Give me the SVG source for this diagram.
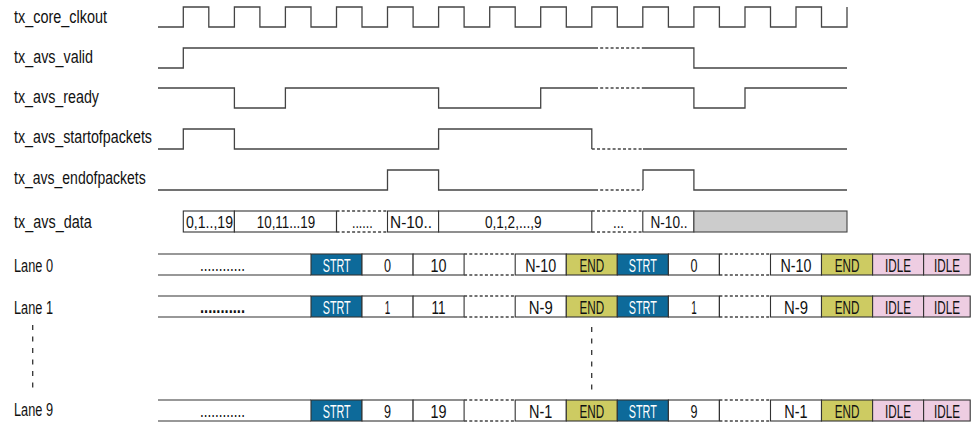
<svg xmlns="http://www.w3.org/2000/svg" width="971" height="423" viewBox="0 0 971 423">
<style>
  text { font-family: "Liberation Sans", Arial, sans-serif; font-size: 17.5px; fill: #111; }
  .lbl { text-anchor: start; }
  .c { text-anchor: middle; }
  .d { font-size: 17px; }
  .w { fill: #ffffff; }
  .sig { fill: none; stroke: #444; stroke-width: 1.3; }
  .dot { fill: none; stroke: #444; stroke-width: 1.3; stroke-dasharray: 3 2.2; }
  .box { fill: #ffffff; stroke: #333; stroke-width: 1.1; }
  .gray { fill: #cccccc; stroke: #444; stroke-width: 1.1; }
  .strt { fill: #0d6a9a; stroke: #333; stroke-width: 1.1; }
  .end { fill: #cdcb62; stroke: #333; stroke-width: 1.1; }
  .idle { fill: #eecde2; stroke: #333; stroke-width: 1.1; }
  .edge { fill: none; stroke: #333; stroke-width: 1.1; }
  .vdash { fill: none; stroke: #333; stroke-width: 1.3; stroke-dasharray: 5 6.5; }
</style>

<g id="labels">
  <text class="lbl" x="14" y="23" textLength="93" lengthAdjust="spacingAndGlyphs">tx_core_clkout</text>
  <text class="lbl" x="14" y="63" textLength="79" lengthAdjust="spacingAndGlyphs">tx_avs_valid</text>
  <text class="lbl" x="14" y="103" textLength="85" lengthAdjust="spacingAndGlyphs">tx_avs_ready</text>
  <text class="lbl" x="14" y="143" textLength="138" lengthAdjust="spacingAndGlyphs">tx_avs_startofpackets</text>
  <text class="lbl" x="14" y="184" textLength="131.7" lengthAdjust="spacingAndGlyphs">tx_avs_endofpackets</text>
  <text class="lbl" x="14" y="228" textLength="77.7" lengthAdjust="spacingAndGlyphs">tx_avs_data</text>
  <text class="lbl" x="14" y="272" textLength="39" lengthAdjust="spacingAndGlyphs">Lane 0</text>
  <text class="lbl" x="14" y="314" textLength="39" lengthAdjust="spacingAndGlyphs">Lane 1</text>
  <text class="lbl" x="14" y="416" textLength="39" lengthAdjust="spacingAndGlyphs">Lane 9</text>
</g>

<g id="connectors">
  <g id="clk">
    <path class="sig" d="M158,27 H183.3 V7 H208.8 V27 H234.4 V7 H259.9 V27 H285.4 V7 H311 V27 H336.5 V7 H362 V27 H387.5 V7 H413.1 V27 H438.6 V7 H464.1 V27 H489.7 V7 H515.2 V27 H540.7 V7 H566.3 V27 H591.8 V7 H617.3 V27 H642.8 V7 H668.4 V27 H693.9 V7 H719.4 V27 H745 V7 H770.5 V27 H796 V7 H821.5 V27 H847 V7"/>
  </g>
  <g id="valid">
    <path class="sig" d="M158,68 H183.3 V48 H595"/>
    <path class="dot" d="M595,48 H643"/>
    <path class="sig" d="M643,48 H693.9 V68 H847"/>
  </g>
  <g id="ready">
    <path class="sig" d="M158,88 H234.4 V108 H285.4 V88 H438.6 V108 H540.7 V88 H595"/>
    <path class="dot" d="M595,88 H643"/>
    <path class="sig" d="M643,88 H693.9 V108 H745 V88 H847"/>
  </g>
  <g id="sop">
    <path class="sig" d="M158,149 H183.3 V129 H234.4 V149 H438.6 V129 H591.8 V149"/>
    <path class="dot" d="M591.8,149 H643"/>
    <path class="sig" d="M643,149 H847"/>
  </g>
  <g id="eop">
    <path class="sig" d="M158,190 H387.5 V170 H438.6 V190 H595"/>
    <path class="dot" d="M595,190 H643"/>
    <path class="sig" d="M643,190 V170 H693.9 V190 H847"/>
  </g>
  <path class="vdash" d="M32.7,325 V390"/>
  <path class="vdash" d="M591.7,327 V392"/>
</g>

<g id="data">
  <rect class="box" x="183.3" y="211" width="51.1" height="21"/>
  <rect class="box" x="234.4" y="211" width="102.1" height="21"/>
  <path class="dot" d="M336.5,211 H387.5 M336.5,232 H387.5"/>
  <path class="edge" d="M336.5,211 V232"/>
  <rect class="box" x="387.5" y="211" width="51.1" height="21"/>
  <rect class="box" x="438.6" y="211" width="153.2" height="21"/>
  <path class="dot" d="M591.8,211 H642.8 M591.8,232 H642.8"/>
  <rect class="box" x="642.8" y="211" width="51.1" height="21"/>
  <rect class="gray" x="693.9" y="211" width="153.1" height="21"/>
  <text class="c d" x="209.5" y="227.5" textLength="47" lengthAdjust="spacingAndGlyphs">0,1..,19</text>
  <text class="c d" x="286" y="227.5" textLength="58.3" lengthAdjust="spacingAndGlyphs">10,11...19</text>
  <text class="c d" x="362.3" y="227.5" textLength="20.7" lengthAdjust="spacingAndGlyphs">......</text>
  <text class="c d" x="411" y="227.5" textLength="42" lengthAdjust="spacingAndGlyphs">N-10..</text>
  <text class="c d" x="513.3" y="227.5" textLength="56.7" lengthAdjust="spacingAndGlyphs">0,1,2,...,9</text>
  <text class="c d" x="618.5" y="227.5" textLength="11" lengthAdjust="spacingAndGlyphs">...</text>
  <text class="c d" x="669" y="227.5" textLength="37" lengthAdjust="spacingAndGlyphs">N-10..</text>
</g>

<g id="lane0">
  <path class="edge" d="M158,254 H311 M158,275 H311"/>
  <rect class="strt" x="311" y="254" width="51" height="21"/>
  <rect class="box" x="362" y="254" width="51.1" height="21"/>
  <rect class="box" x="413.1" y="254" width="51" height="21"/>
  <path class="dot" d="M464.1,254 H515.2 M464.1,275 H515.2"/>
  <rect class="box" x="515.2" y="254" width="51.1" height="21"/>
  <rect class="end" x="566.3" y="254" width="51" height="21"/>
  <rect class="strt" x="617.3" y="254" width="51.1" height="21"/>
  <rect class="box" x="668.4" y="254" width="51" height="21"/>
  <path class="dot" d="M719.4,254 H770.5 M719.4,275 H770.5"/>
  <path class="edge" d="M719.4,254 V275"/>
  <rect class="box" x="770.5" y="254" width="51" height="21"/>
  <rect class="end" x="821.5" y="254" width="51.1" height="21"/>
  <rect class="idle" x="872.6" y="254" width="51" height="21"/>
  <rect class="idle" x="923.6" y="254" width="46.6" height="21"/>
  <text class="c" x="222.5" y="271" textLength="45" lengthAdjust="spacingAndGlyphs">............</text>
  <text class="c w" x="336.7" y="271.5" textLength="28" lengthAdjust="spacingAndGlyphs">STRT</text>
  <text class="c" x="387.5" y="271.5" textLength="7" lengthAdjust="spacingAndGlyphs">0</text>
  <text class="c" x="438.6" y="271.5" textLength="16" lengthAdjust="spacingAndGlyphs">10</text>
  <text class="c" x="540.7" y="271.5" textLength="31" lengthAdjust="spacingAndGlyphs">N-10</text>
  <text class="c" x="591.8" y="271.5" textLength="24.7" lengthAdjust="spacingAndGlyphs">END</text>
  <text class="c w" x="642.8" y="271.5" textLength="28" lengthAdjust="spacingAndGlyphs">STRT</text>
  <text class="c" x="693.9" y="271.5" textLength="7" lengthAdjust="spacingAndGlyphs">0</text>
  <text class="c" x="796" y="271.5" textLength="31" lengthAdjust="spacingAndGlyphs">N-10</text>
  <text class="c" x="847" y="271.5" textLength="24.7" lengthAdjust="spacingAndGlyphs">END</text>
  <text class="c" x="898.1" y="271.5" textLength="26" lengthAdjust="spacingAndGlyphs">IDLE</text>
  <text class="c" x="947" y="271.5" textLength="26" lengthAdjust="spacingAndGlyphs">IDLE</text>
</g>

<g id="lane1">
  <path class="edge" d="M158,296 H311 M158,317 H311"/>
  <rect class="strt" x="311" y="296" width="51" height="21"/>
  <rect class="box" x="362" y="296" width="51.1" height="21"/>
  <rect class="box" x="413.1" y="296" width="51" height="21"/>
  <path class="dot" d="M464.1,296 H515.2 M464.1,317 H515.2"/>
  <rect class="box" x="515.2" y="296" width="51.1" height="21"/>
  <rect class="end" x="566.3" y="296" width="51" height="21"/>
  <rect class="strt" x="617.3" y="296" width="51.1" height="21"/>
  <rect class="box" x="668.4" y="296" width="51" height="21"/>
  <path class="dot" d="M719.4,296 H770.5 M719.4,317 H770.5"/>
  <path class="edge" d="M719.4,296 V317"/>
  <rect class="box" x="770.5" y="296" width="51" height="21"/>
  <rect class="end" x="821.5" y="296" width="51.1" height="21"/>
  <rect class="idle" x="872.6" y="296" width="51" height="21"/>
  <rect class="idle" x="923.6" y="296" width="46.6" height="21"/>
  <text class="c" x="222.5" y="313" textLength="45" lengthAdjust="spacingAndGlyphs" font-weight="bold">...........</text>
  <text class="c w" x="336.7" y="313.5" textLength="28" lengthAdjust="spacingAndGlyphs">STRT</text>
  <text class="c" x="387.5" y="313.5" textLength="5.5" lengthAdjust="spacingAndGlyphs">1</text>
  <text class="c" x="438.6" y="313.5" textLength="14" lengthAdjust="spacingAndGlyphs">11</text>
  <text class="c" x="540.7" y="313.5" textLength="24" lengthAdjust="spacingAndGlyphs">N-9</text>
  <text class="c" x="591.8" y="313.5" textLength="24.7" lengthAdjust="spacingAndGlyphs">END</text>
  <text class="c w" x="642.8" y="313.5" textLength="28" lengthAdjust="spacingAndGlyphs">STRT</text>
  <text class="c" x="693.9" y="313.5" textLength="5.5" lengthAdjust="spacingAndGlyphs">1</text>
  <text class="c" x="796" y="313.5" textLength="24" lengthAdjust="spacingAndGlyphs">N-9</text>
  <text class="c" x="847" y="313.5" textLength="24.7" lengthAdjust="spacingAndGlyphs">END</text>
  <text class="c" x="898.1" y="313.5" textLength="26" lengthAdjust="spacingAndGlyphs">IDLE</text>
  <text class="c" x="947" y="313.5" textLength="26" lengthAdjust="spacingAndGlyphs">IDLE</text>
</g>

<g id="lane9">
  <path class="edge" d="M158,400 H311 M158,421 H311"/>
  <rect class="strt" x="311" y="400" width="51" height="21"/>
  <rect class="box" x="362" y="400" width="51.1" height="21"/>
  <rect class="box" x="413.1" y="400" width="51" height="21"/>
  <path class="dot" d="M464.1,400 H515.2 M464.1,421 H515.2"/>
  <rect class="box" x="515.2" y="400" width="51.1" height="21"/>
  <rect class="end" x="566.3" y="400" width="51" height="21"/>
  <rect class="strt" x="617.3" y="400" width="51.1" height="21"/>
  <rect class="box" x="668.4" y="400" width="51" height="21"/>
  <path class="dot" d="M719.4,400 H770.5 M719.4,421 H770.5"/>
  <path class="edge" d="M719.4,400 V421"/>
  <rect class="box" x="770.5" y="400" width="51" height="21"/>
  <rect class="end" x="821.5" y="400" width="51.1" height="21"/>
  <rect class="idle" x="872.6" y="400" width="51" height="21"/>
  <rect class="idle" x="923.6" y="400" width="46.6" height="21"/>
  <text class="c" x="222.5" y="417" textLength="45" lengthAdjust="spacingAndGlyphs">............</text>
  <text class="c w" x="336.7" y="417.5" textLength="28" lengthAdjust="spacingAndGlyphs">STRT</text>
  <text class="c" x="387.5" y="417.5" textLength="7" lengthAdjust="spacingAndGlyphs">9</text>
  <text class="c" x="438.6" y="417.5" textLength="16" lengthAdjust="spacingAndGlyphs">19</text>
  <text class="c" x="540.7" y="417.5" textLength="23.3" lengthAdjust="spacingAndGlyphs">N-1</text>
  <text class="c" x="591.8" y="417.5" textLength="24.7" lengthAdjust="spacingAndGlyphs">END</text>
  <text class="c w" x="642.8" y="417.5" textLength="28" lengthAdjust="spacingAndGlyphs">STRT</text>
  <text class="c" x="693.9" y="417.5" textLength="7" lengthAdjust="spacingAndGlyphs">9</text>
  <text class="c" x="796" y="417.5" textLength="23.3" lengthAdjust="spacingAndGlyphs">N-1</text>
  <text class="c" x="847" y="417.5" textLength="24.7" lengthAdjust="spacingAndGlyphs">END</text>
  <text class="c" x="898.1" y="417.5" textLength="26" lengthAdjust="spacingAndGlyphs">IDLE</text>
  <text class="c" x="947" y="417.5" textLength="26" lengthAdjust="spacingAndGlyphs">IDLE</text>
</g>
</svg>
